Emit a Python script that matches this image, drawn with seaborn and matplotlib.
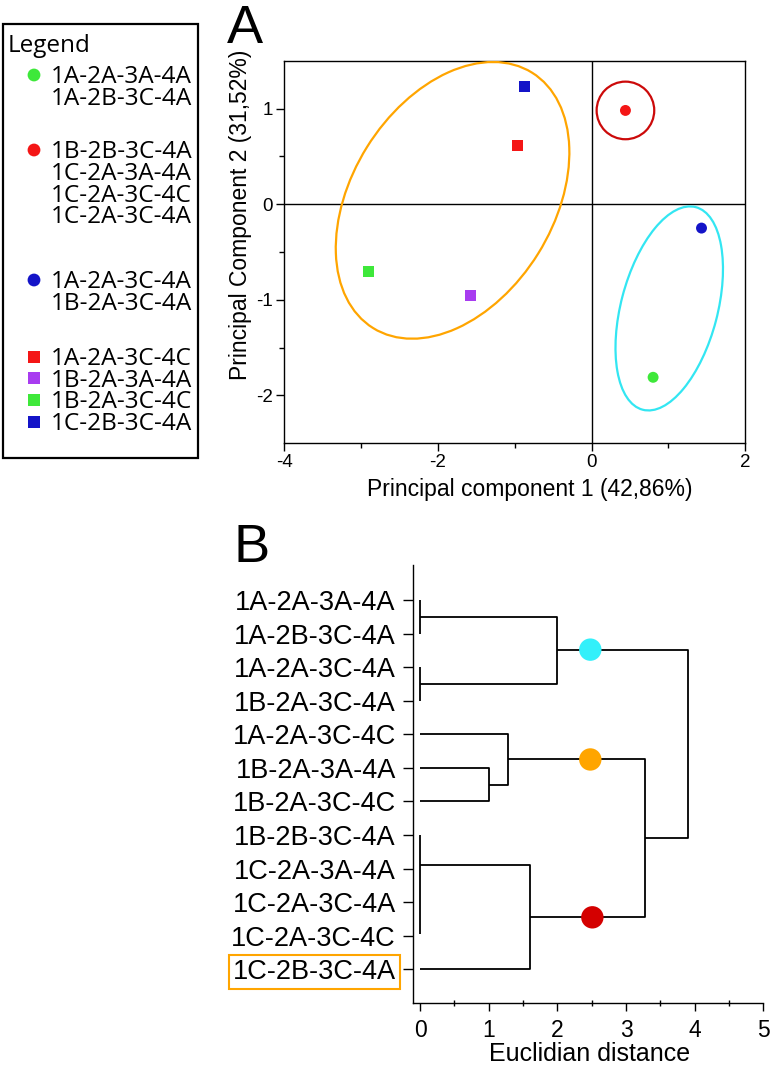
import numpy as np
import pandas as pd
import matplotlib
matplotlib.use("Agg")
import matplotlib.pyplot as plt
import seaborn as sns
from matplotlib.patches import Ellipse, Rectangle
from matplotlib.transforms import ScaledTranslation

# ---------------- data ----------------
# Panel A: PCA scores
pca_keys = ["grp_green", "grp_red", "grp_blue", "1A-2A-3C-4C", "1B-2A-3A-4A", "1B-2A-3C-4C", "1C-2B-3C-4A"]
pc1 = [0.80, 0.44, 1.43, -0.96, -1.58, -2.91, -0.87]
pc2 = [-1.81, 0.98, -0.25, 0.61, -0.95, -0.70, 1.23]
pca_colors = ["#3ee83a", "#f41616", "#1414c8", "#f41616", "#a83cf0", "#3ee83a", "#1414c8"]
pca_markers = ["o", "o", "o", "s", "s", "s", "s"]

# cluster outlines: centre (data), semi-axes (inches), angle (deg)
ell_cx = [-1.81, 0.44, 1.01]
ell_cy = [0.04, 0.98, -1.09]
ell_a = [1.504, 0.288, 1.047]
ell_b = [1.008, 0.288, 0.483]
ell_ang = [58.1, 0.0, 75.3]
ell_col = ["#ffa500", "#cc0a0a", "#33e6f2"]

x_label_a = "Principal component 1 (42,86%)"
y_label_a = "Principal Component 2 (31,52%)"

# Legend groups
legend_markers = ["o", "o", "o", "s", "s", "s", "s"]
legend_colors = pca_colors
legend_texts = [
    ["1A-2A-3A-4A", "1A-2B-3C-4A"],
    ["1B-2B-3C-4A", "1C-2A-3A-4A", "1C-2A-3C-4C", "1C-2A-3C-4A"],
    ["1A-2A-3C-4A", "1B-2A-3C-4A"],
    ["1A-2A-3C-4C"],
    ["1B-2A-3A-4A"],
    ["1B-2A-3C-4C"],
    ["1C-2B-3C-4A"],
]

# Panel B: dendrogram
leaf_labels = ["1A-2A-3A-4A", "1A-2B-3C-4A", "1A-2A-3C-4A", "1B-2A-3C-4A",
               "1A-2A-3C-4C", "1B-2A-3A-4A", "1B-2A-3C-4C", "1B-2B-3C-4A",
               "1C-2A-3A-4A", "1C-2A-3C-4A", "1C-2A-3C-4C", "1C-2B-3C-4A"]
# each link: upper child position, lower child position, child heights, merge height
link_top = [0, 2, 0.5, 5, 4, 7, 7.9, 4.75, 1.48]
link_bot = [1, 3, 2.5, 6, 5.5, 9.95, 11, 9.45, 7.08]
link_top_h = [0, 0, 0, 0, 0, 0, 0, 1.28, 2.00]
link_bot_h = [0, 0, 0, 0, 1.00, 0, 0, 1.60, 3.27]
link_h = [0, 0, 2.00, 1.00, 1.28, 0, 1.60, 3.27, 3.90]
cluster_x = [2.48, 2.48, 2.51]
cluster_y = [1.48, 4.75, 9.45]
cluster_col = ["#33f0fa", "#ffa500", "#d40000"]
x_label_b = "Euclidian distance"

# ---------------- figure ----------------
sns.set_theme(style="white")
plt.rcParams["font.family"] = ["Liberation Sans", "DejaVu Sans"]
plt.rcParams.update({
    "axes.edgecolor": "black",
    "axes.unicode_minus": False,
    "text.color": "black",
    "axes.labelcolor": "black",
    "xtick.color": "black",
    "ytick.color": "black",
})

W, H = 772, 1073
fig = plt.figure(figsize=(W / 100, H / 100), dpi=100)

def fig_axes(l, t, r, b):
    return fig.add_axes([l / W, 1 - b / H, (r - l) / W, (b - t) / H])

# overlay in pixel coordinates for legend box and panel letters
ov = fig.add_axes([0, 0, 1, 1])
ov.set_xlim(0, W)
ov.set_ylim(H, 0)
ov.axis("off")
ov.add_patch(Rectangle((2.5, 23.5), 195.5, 434, fill=False, edgecolor="black", lw=1.6))
lfont = ["Open Sans", "DejaVu Sans"]
ov.text(8, 51.5, "Legend", family=lfont, fontsize=17.5, va="baseline", ha="left")
row_y = [[75, 96.7], [150, 171.7, 193.3, 215], [280, 301.7], [356.7], [378.3], [400], [421.7]]
for m, c, texts, ys in zip(legend_markers, legend_colors, legend_texts, row_y):
    ov.scatter([34], [ys[0]], marker=m, s=85 if m == "o" else 78, color=c, edgecolor="none")
    for t, y in zip(texts, ys):
        ov.text(51, y + 8.3, t, family=lfont, fontsize=17.6, va="baseline", ha="left")
ov.text(227, 43, "A", fontsize=39, va="baseline", ha="left")
ov.text(233, 561.5, "B", fontsize=39, va="baseline", ha="left")

# ---------- Panel A ----------
axA = fig_axes(284.3, 60.7, 745.3, 443.3)
dfA = pd.DataFrame({"pc1": pc1, "pc2": pc2, "key": pca_keys})
sns.scatterplot(data=dfA, x="pc1", y="pc2", hue="key", style="key",
                palette=dict(zip(pca_keys, pca_colors)),
                markers=dict(zip(pca_keys, pca_markers)),
                s=62, edgecolor="none", legend=False, ax=axA, zorder=5)
axA.axhline(0, color="black", lw=1.0, zorder=1)
axA.axvline(0, color="black", lw=1.0, zorder=1)
for cx, cy, a, b, ang, col in zip(ell_cx, ell_cy, ell_a, ell_b, ell_ang, ell_col):
    tr = fig.dpi_scale_trans + ScaledTranslation(cx, cy, axA.transData)
    axA.add_patch(Ellipse((0, 0), 2 * a, 2 * b, angle=ang, transform=tr,
                          fill=False, edgecolor=col, lw=1.6, zorder=3))
axA.set_xlim(-4, 2)
axA.set_ylim(-2.5, 1.5)
axA.set_xticks([-4, -2, 0, 2])
axA.set_xticks([-3, -1, 1], minor=True)
axA.set_yticks([-2, -1, 0, 1])
axA.set_yticks([-1.5, -0.5, 0.5], minor=True)
axA.tick_params(which="major", direction="out", length=6, width=1, labelsize=13.5, pad=2,
                bottom=True, left=True)
axA.tick_params(which="minor", direction="out", length=3.5, width=1, bottom=True, left=True)
for s in axA.spines.values():
    s.set_linewidth(1.0)
axA.set_xlabel(x_label_a, fontsize=16.5)
axA.set_ylabel(y_label_a, fontsize=16.5)
axA.xaxis.set_label_coords(0.533, -0.09)
axA.yaxis.set_label_coords(-0.07, 0.597)

# ---------- Panel B ----------
axB = fig_axes(412.5, 565, 763.3, 1003.3)
for t, bt, th, bh, h in zip(link_top, link_bot, link_top_h, link_bot_h, link_h):
    xs = [th, h, h, bh]
    ys = [t, t, bt, bt]
    axB.plot(xs, ys, color="black", lw=1.3, solid_capstyle="butt")
dfB = pd.DataFrame({"d": cluster_x, "row": cluster_y, "c": cluster_col})
sns.scatterplot(data=dfB, x="d", y="row", hue="c", palette=dict(zip(cluster_col, cluster_col)),
                s=260, edgecolor="none", legend=False, ax=axB, zorder=5)
axB.set_xlim(-0.11, 5)
axB.set_ylim(12.01, -1.04)
axB.set_yticks(range(len(leaf_labels)))
axB.set_yticklabels(leaf_labels, fontsize=19.5)
axB.set_xticks(range(6))
axB.set_xticks(np.arange(0.5, 5, 1), minor=True)
axB.tick_params(axis="y", which="major", direction="out", length=7, width=1, pad=5, left=True)
axB.tick_params(axis="x", which="major", direction="out", length=6, width=1, labelsize=16.5, pad=5, bottom=True)
axB.tick_params(axis="x", which="minor", direction="inout", length=4, width=1, bottom=True)
for side in ["top", "right"]:
    axB.spines[side].set_visible(False)
for side in ["left", "bottom"]:
    axB.spines[side].set_linewidth(1.0)
axB.set_xlabel(x_label_b, fontsize=18)
axB.set_ylabel("")
axB.xaxis.set_label_coords(0.505, -0.088)
axB.get_yticklabels()[-1].set_bbox(dict(facecolor="none", edgecolor="#ffa500", lw=1.5, pad=3))

fig.savefig("out.png", dpi=100)
